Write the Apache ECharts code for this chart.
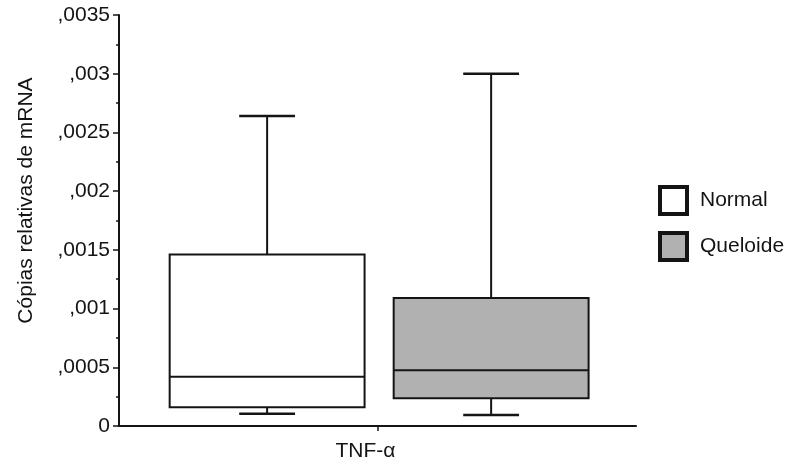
<!DOCTYPE html>
<html>
<head>
<meta charset="utf-8">
<style>
  html, body { margin: 0; padding: 0; background: #fff; }
  #chart { width: 786px; height: 466px; }
</style>
<script src="https://cdn.jsdelivr.net/npm/echarts@6/dist/echarts.min.js"></script>
</head>
<body>
<div id="chart"></div>
<script>
// Gene on the category axis
const categories = ['TNF-α'];
// Group names (legend)
const groups = ['Normal', 'Queloide'];
// Five-number summaries: [min, Q1, median, Q3, max]
const normalBox = [0.000105, 0.00016, 0.00042, 0.00146, 0.00264];
const queloideBox = [0.000094, 0.000236, 0.000475, 0.00109, 0.0030];
// Y-axis range and step
const yMin = 0, yMax = 0.0035, yStep = 0.0005;

const FONT = "'Liberation Sans', Arial, sans-serif";
const INK = '#141414';
const FS = 21;

// Horizontal placement of each group's box within the category band (fraction of band width)
const boxOffsets = [-0.2135, 0.2198];
const boxWidthFrac = 0.377;
const capWidthFrac = 0.108;

function tickLabel(v) {
  if (v === 0) return '0';
  let s = v.toFixed(4).replace(/0+$/, '');
  return s.replace(/^0\./, ',');
}

function renderBox(params, api) {
  const cat = api.value(0);
  const band = api.size([1, 0])[0];
  const cx = api.coord([cat, 0])[0] + boxOffsets[params.seriesIndex] * band;
  const y = i => api.coord([cat, api.value(i)])[1];
  const yMinV = y(1), yQ1 = y(2), yMed = y(3), yQ3 = y(4), yMaxV = y(5);
  const half = boxWidthFrac * band / 2;
  const capHalf = capWidthFrac * band / 2;
  const line = { stroke: INK, lineWidth: 2, fill: null };
  return {
    type: 'group',
    children: [
      { type: 'line', shape: { x1: cx, y1: yQ3, x2: cx, y2: yMaxV }, style: line },
      { type: 'line', shape: { x1: cx - capHalf, y1: yMaxV, x2: cx + capHalf, y2: yMaxV }, style: { stroke: INK, lineWidth: 2.5 } },
      { type: 'line', shape: { x1: cx, y1: yQ1, x2: cx, y2: yMinV }, style: line },
      { type: 'line', shape: { x1: cx - capHalf, y1: yMinV, x2: cx + capHalf, y2: yMinV }, style: { stroke: INK, lineWidth: 2.5 } },
      { type: 'rect', shape: { x: cx - half, y: yQ3, width: half * 2, height: yQ1 - yQ3 },
        style: { fill: api.visual('color'), stroke: INK, lineWidth: 2 } },
      { type: 'line', shape: { x1: cx - half, y1: yMed, x2: cx + half, y2: yMed }, style: line }
    ]
  };
}

const chart = echarts.init(document.getElementById('chart'), null, { renderer: 'canvas' });

chart.setOption({
  animation: false,
  backgroundColor: '#ffffff',
  textStyle: { fontFamily: FONT, color: INK },
  grid: { left: 119, right: 150, top: 15, bottom: 40 },
  legend: {
    orient: 'vertical',
    left: 653,
    top: 180,
    icon: 'rect',
    itemWidth: 27,
    itemHeight: 27,
    itemGap: 15,
    itemStyle: { borderColor: INK, borderWidth: 4 },
    textStyle: { fontFamily: FONT, fontSize: FS, color: INK, padding: [0, 0, 0, 8] },
    data: groups
  },
  xAxis: {
    type: 'category',
    data: categories,
    boundaryGap: true,
    axisLine: { lineStyle: { color: INK, width: 2 } },
    axisTick: { show: true, alignWithLabel: true, length: 5, lineStyle: { color: INK, width: 1.5 } },
    axisLabel: { fontFamily: FONT, fontSize: FS, color: INK, margin: 15, padding: [0, 24, 0, 0] }
  },
  yAxis: {
    type: 'value',
    min: yMin,
    max: yMax,
    interval: yStep,
    name: 'Cópias relativas de mRNA',
    nameLocation: 'middle',
    nameGap: 82,
    nameTextStyle: { fontFamily: FONT, fontSize: FS, color: INK, padding: [0, 0, 0, 40] },
    splitLine: { show: false },
    axisLine: { show: true, lineStyle: { color: INK, width: 2 } },
    axisTick: { show: true, length: 6, lineStyle: { color: INK, width: 1.5 } },
    minorTick: { show: true, splitNumber: 2, length: 3, lineStyle: { color: INK, width: 1.5 } },
    axisLabel: { fontFamily: FONT, fontSize: FS, color: INK, margin: 9, formatter: tickLabel }
  },
  series: [
    {
      name: groups[0],
      type: 'custom',
      itemStyle: { color: '#ffffff' },
      encode: { x: 0, y: [1, 2, 3, 4, 5] },
      renderItem: renderBox,
      data: [[0].concat(normalBox)]
    },
    {
      name: groups[1],
      type: 'custom',
      itemStyle: { color: '#b1b1b1' },
      encode: { x: 0, y: [1, 2, 3, 4, 5] },
      renderItem: renderBox,
      data: [[0].concat(queloideBox)]
    }
  ]
});
</script>
</body>
</html>
